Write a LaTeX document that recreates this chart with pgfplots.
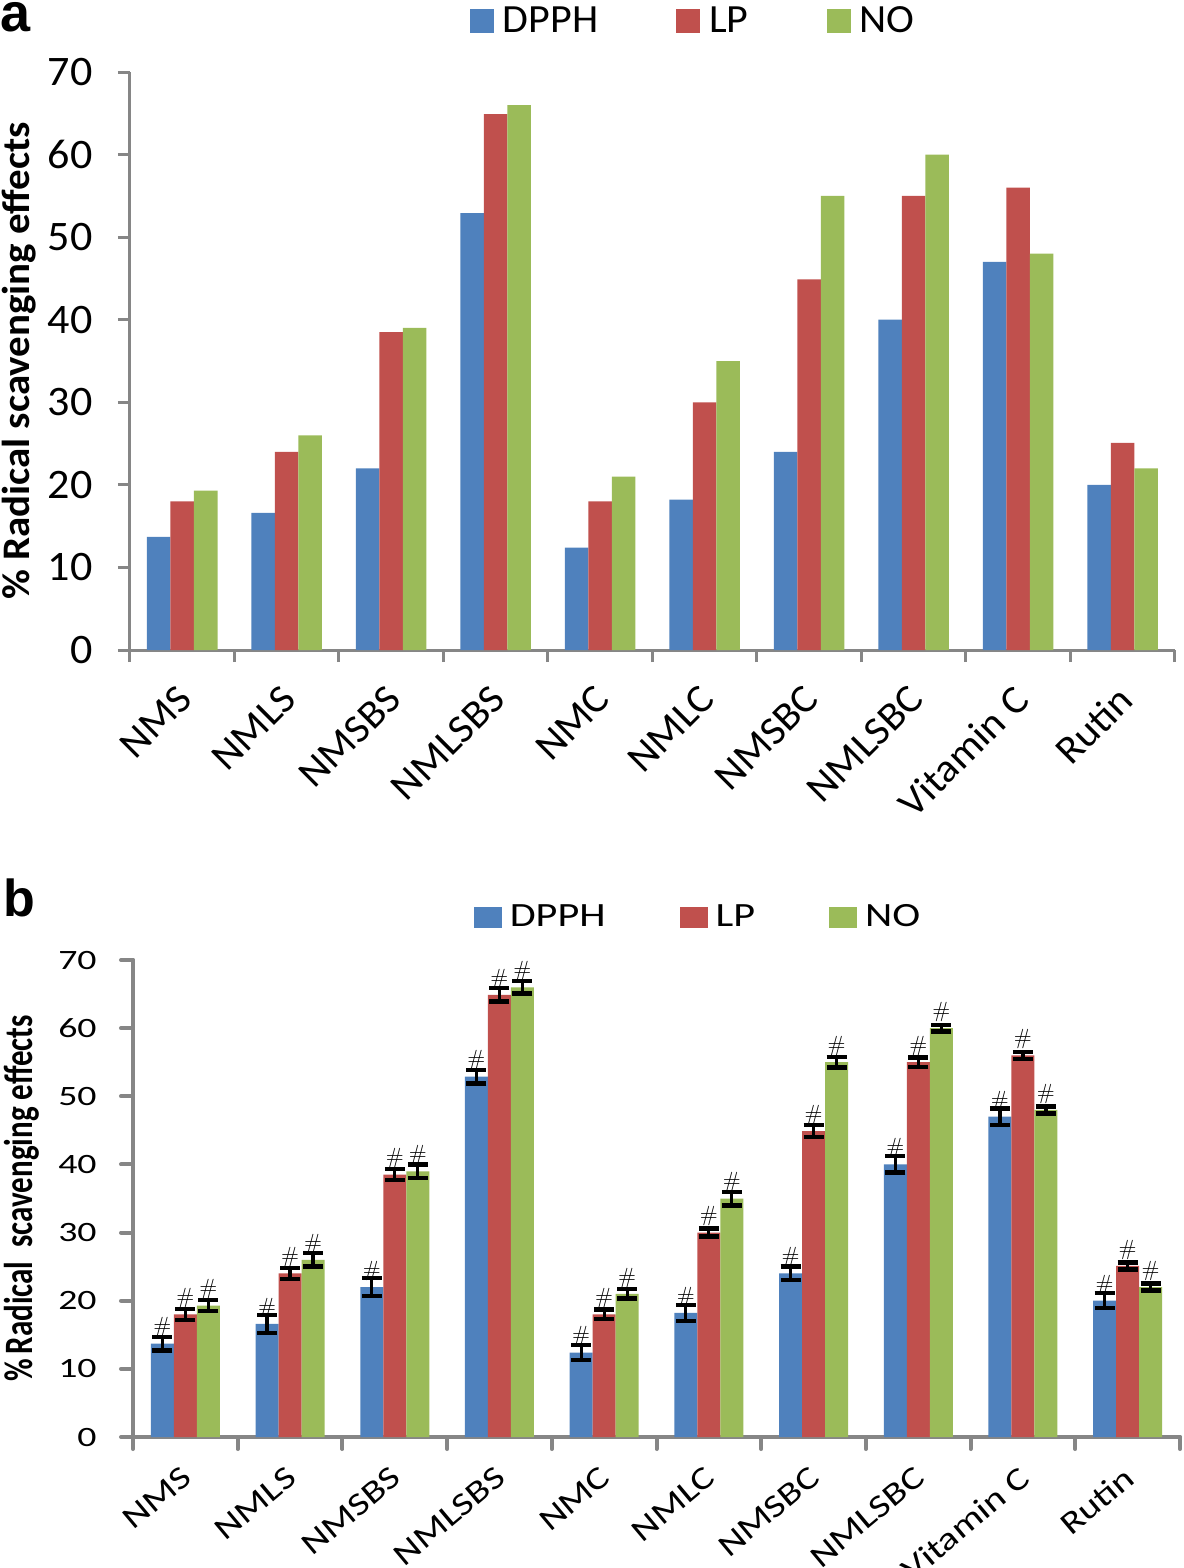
\documentclass[border=0pt]{standalone}
\usepackage{pgfplots}
\usepackage{pgfplotstable}
\pgfplotsset{compat=1.18}
\usepackage{fontspec}
\newfontfamily\carA[FakeStretch=1.05]{Carlito}
\newfontfamily\carB[FakeStretch=1.24]{Carlito}
\newfontfamily\carC[FakeStretch=1.35]{Carlito}
\newfontfamily\carY{Carlito}
\newfontfamily\helv{Liberation Sans}
\definecolor{cblue}{HTML}{4F81BD}
\definecolor{cred}{HTML}{C0504D}
\definecolor{cgreen}{HTML}{9BBB59}
\definecolor{axgray}{HTML}{868686}

\pgfplotstableread{
x dpph lp no edpph elp eno
0 13.7 18.0 19.3 1.0 0.8 0.8
1 16.6 24.0 26.0 1.3 0.8 1.0
2 22.0 38.5 39.0 1.3 0.8 1.0
3 52.9 64.9 66.0 1.0 1.0 0.9
4 12.4 18.0 21.0 1.1 0.7 0.7
5 18.2 30.0 35.0 1.2 0.6 1.0
6 24.0 44.9 55.0 1.0 0.9 0.8
7 40.0 55.0 60.0 1.2 0.7 0.5
8 47.0 56.0 48.0 1.2 0.5 0.5
9 20.0 25.1 22.0 1.1 0.5 0.5
}\data

\pgfplotsset{
  common/.style={
    scale only axis,
    xmin=-0.5, xmax=9.5, ymin=0, ymax=70,
    ytick={0,10,...,70},
    xtick={0,...,9},
    xticklabels={NMS,NMLS,NMSBS,NMLSBS,NMC,NMLC,NMSBC,NMLSBC,Vitamin C,Rutin},
    minor xtick={-0.5,0.5,...,9.5},
    axis lines*=left,
    tick align=outside,
    major tick length=6pt, minor tick length=6pt,
    major x tick style={draw=none},
    enlargelimits=false,
    clip=false,
    ybar=0pt,
    /pgf/number format/assume math mode=true,
    legend columns=3,
    legend cell align=left,
  },
  eb/.style={
    error bars/y dir=both, error bars/y explicit,
    error bars/error bar style={black, line width=1.6pt},
    error bars/error mark options={rotate=90, mark size=5pt, line width=2.2pt, black},
  },
}

\begin{document}
\begin{tikzpicture}
\path[use as bounding box] (0pt,0pt) rectangle (591.5pt,-784pt);

% ---------- panel a ----------
\begin{axis}[common,
  at={(65pt,-325pt)}, anchor=south west,
  width=522.5pt, height=289pt,
  bar width=11.75pt,
  axis line style={draw=axgray, line width=1.5pt},
  minor x tick style={axgray, line width=1.5pt},
  major y tick style={axgray, line width=1.5pt},
  yticklabel style={font=\carA\fontsize{21}{21}\selectfont, anchor=east, inner sep=0pt, xshift=-12.5pt},
  xticklabel style={font=\carA\fontsize{20}{20}\selectfont, rotate=45, anchor=north east, inner sep=0pt, xshift=-9.8pt, yshift=-5pt},
  ylabel={\carA\bfseries\fontsize{19.5}{19.5}\selectfont \% Radical scavenging effects},
  ylabel style={at={(axis description cs:-0.1062,0.5)}, anchor=center, inner sep=0pt},
  legend style={draw=none, fill=none, at={(axis description cs:0.54,1.088)}, anchor=center,
    font=\carA\fontsize{20}{20}\selectfont, inner sep=0pt,
    /tikz/every even column/.append style={column sep=37pt},
    /tikz/every odd column/.append style={column sep=2.5pt}},
  legend image code/.code={\fill[#1,draw=none] (0pt,-6pt) rectangle (12pt,6pt);},
]
\addplot[fill=cblue, draw=none] table[x=x,y=dpph]{\data};
\addplot[fill=cred, draw=none] table[x=x,y=lp]{\data};
\addplot[fill=cgreen, draw=none] table[x=x,y=no]{\data};
\legend{DPPH,LP,NO}
\end{axis}

% ---------- panel b ----------
\begin{axis}[common,
  at={(66.5pt,-718.5pt)}, anchor=south west,
  width=523.5pt, height=238.5pt,
  bar width=11.5pt,
  axis line style={draw=axgray, line width=2pt, line cap=round},
  minor x tick style={axgray, line width=2pt, line cap=round},
  major y tick style={axgray, line width=2pt, line cap=round},
  yticklabel style={font=\carC\fontsize{14}{14}\selectfont, anchor=east, inner sep=0pt, xshift=-12pt},
  xticklabel style={font=\carB\fontsize{16}{16}\selectfont, rotate=40, anchor=north east, inner sep=0pt, xshift=-7pt, yshift=-4.2pt},
  ylabel={\scalebox{1}[1.3]{\carY\bfseries\fontsize{15.5}{15.5}\selectfont \%\,Radical\ \ scavenging effects}},
  ylabel style={at={(axis description cs:-0.106,0.5)}, anchor=center, inner sep=0pt},
  legend style={draw=none, fill=none, at={(axis description cs:0.5406,1.090)}, anchor=center,
    font=\carB\fontsize{17}{17}\selectfont, inner sep=0pt,
    /tikz/every even column/.append style={column sep=35pt},
    /tikz/every odd column/.append style={column sep=2pt}},
  legend image code/.code={\fill[#1,draw=none] (0pt,-5.25pt) rectangle (14pt,5.25pt);},
  nodes near coords={\#},
  every node near coord/.append style={font=\fontsize{11}{11}\selectfont, black, anchor=south, inner sep=0pt, yshift=3pt},
]
\addplot[fill=cblue, draw=none, eb] table[x=x,y=dpph,y error=edpph]{\data};
\addplot[fill=cred, draw=none, eb] table[x=x,y=lp,y error=elp]{\data};
\addplot[fill=cgreen, draw=none, eb] table[x=x,y=no,y error=eno]{\data};
\legend{DPPH,LP,NO}
\end{axis}

\node[anchor=north west, inner sep=0pt, font=\helv\bfseries\fontsize{27}{27}\selectfont] at (0pt,-1pt) {a};
\node[anchor=north west, inner sep=0pt, font=\helv\bfseries\fontsize{26}{26}\selectfont] at (1.5pt,-439pt) {b};
\end{tikzpicture}
\end{document}
